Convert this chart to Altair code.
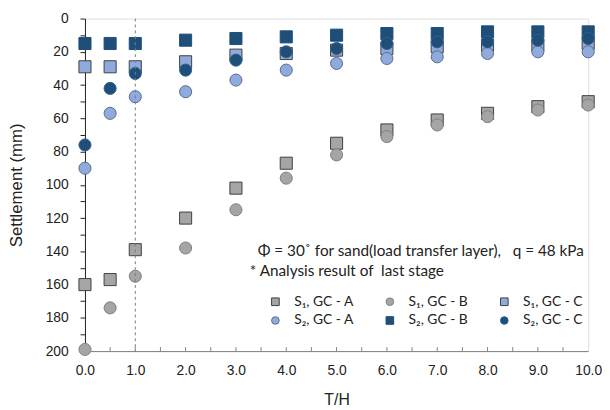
import altair as alt
import pandas as pd

# ---- data ----
x_vals = [0, 0.5, 1, 2, 3, 4, 5, 6, 7, 8, 9, 10]
s1_gca = [160, 157, 139, 120, 102, 87, 75, 67, 61, 57, 53, 50]
s1_gcb = [199, 174, 155, 138, 115, 96, 82, 71, 64, 59, 55, 52]
s1_gcc = [29, 29, 29, 26, 22, 21, 19, 18, 17, 16, 16, 15]
s2_gca = [90, 57, 47, 44, 37, 31, 27, 24, 23, 21, 20, 20]
s2_gcb = [15, 15, 15, 13, 12, 11, 10, 9, 9, 8, 8, 8]
s2_gcc = [76, 42, 33, 31, 25, 20, 18, 15, 14, 14, 13, 12]

series_names = ["S\u2081, GC - A", "S\u2081, GC - B", "S\u2081, GC - C",
                "S\u2082, GC - A", "S\u2082, GC - B", "S\u2082, GC - C"]
series_vals = [s1_gca, s1_gcb, s1_gcc, s2_gca, s2_gcb, s2_gcc]
fills = ["#a5a5a5", "#a5a5a5", "#8faadc", "#8faadc", "#1f4e79", "#1f4e79"]
strokes = ["#404040", "#7f7f7f", "#404040", "#5a6a8a", "#1f4e79", "#2e5f8f"]
shapes = ["square", "circle", "square", "circle", "square", "circle"]
draw_order = [0, 2, 4, 1, 3, 5]

minor_x = [0.5, 1, 1.5, 2, 2.5, 3, 3.5, 4, 4.5, 5, 5.5, 6, 6.5, 7, 7.5, 8, 8.5, 9, 9.5]
ref_x = [1.0]

rows = []
for i in draw_order:
    for xv, yv in zip(x_vals, series_vals[i]):
        rows.append({"x": xv, "y": yv, "series": series_names[i], "o": draw_order.index(i)})
df = pd.DataFrame(rows)

FONT = "Liberation Sans"
NOTE_FONT = "Lato"
W, H = 510, 337

xscale = alt.Scale(domain=[0, 10], nice=False, zero=False)
yscale = alt.Scale(domain=[0, 200], reverse=True, nice=False)

leg = alt.Legend(title=None, orient="none", legendX=186, legendY=280, columns=3,
                 direction="horizontal",
                 symbolSize=60, labelFontSize=14, labelFont=NOTE_FONT, labelColor="#222222",
                 columnPadding=29, rowPadding=5, labelOffset=12, symbolStrokeWidth=1)

points = alt.Chart(df).mark_point(filled=True, opacity=1, strokeWidth=1, size=150).encode(
    x=alt.X("x:Q", scale=xscale,
            axis=alt.Axis(values=list(range(0, 11)), format=".1f", ticks=False, grid=False,
                          labelFlush=False,
                          domainColor="#808080", labelFontSize=14, labelFont=FONT,
                          labelColor="#222222", labelPadding=13,
                          title="T/H", titleFontSize=16, titleFont=FONT,
                          titleFontWeight="normal", titleColor="#222222", titlePadding=14)),
    y=alt.Y("y:Q", scale=yscale,
            axis=alt.Axis(values=list(range(0, 201, 10)),
                          labelExpr="datum.value % 20 == 0 ? datum.label : ''",
                          grid=False, domainColor="#222222", tickColor="#222222", tickSize=5,
                          labelFontSize=14, labelFont=FONT, labelColor="#222222", labelPadding=12,
                          title="Settlement (mm)", titleFontSize=17, titleFont=FONT,
                          titleFontWeight="normal", titleColor="#222222", titlePadding=20)),
    fill=alt.Fill("series:N", scale=alt.Scale(domain=series_names, range=fills), legend=leg),
    stroke=alt.Stroke("series:N", scale=alt.Scale(domain=series_names, range=strokes), legend=leg),
    shape=alt.Shape("series:N", scale=alt.Scale(domain=series_names, range=shapes), legend=leg),
    order=alt.Order("o:Q"),
)

ticks_df = pd.DataFrame({"x": minor_x})
inner_ticks = alt.Chart(ticks_df).mark_rule(color="#808080", strokeWidth=1).encode(
    x=alt.X("x:Q", scale=xscale),
    y=alt.value(H),
    y2=alt.value(H - 4),
)

ref = alt.Chart(pd.DataFrame({"x": ref_x})).mark_rule(
    color="#6f7f8f", strokeDash=[3, 3], strokeWidth=1).encode(
    x=alt.X("x:Q", scale=xscale),
    y=alt.value(0),
    y2=alt.value(H),
)

note1 = alt.Chart(pd.DataFrame({"t": ["\u03a6 = 30\u02da for sand(load transfer layer),\u00a0\u00a0\u00a0q = 48 kPa"]})).mark_text(
    align="left", baseline="middle", fontSize=15.5, font=NOTE_FONT, color="#222222").encode(
    text="t:N", x=alt.value(175), y=alt.value(236))
note2 = alt.Chart(pd.DataFrame({"t": ["* Analysis result of\u00a0\u00a0last stage"]})).mark_text(
    align="left", baseline="middle", fontSize=15.5, font=NOTE_FONT, color="#222222").encode(
    text="t:N", x=alt.value(167), y=alt.value(256))

chart = alt.layer(points, inner_ticks, ref, note1, note2).properties(
    width=W, height=H,
    autosize=alt.AutoSizeParams(type="none"),
    padding={"left": 78, "top": 8, "right": 14, "bottom": 57},
).configure_view(stroke="#595959", strokeWidth=1).configure(background="white")

chart.save("out.html", embed_options={"renderer": "svg", "actions": False})
